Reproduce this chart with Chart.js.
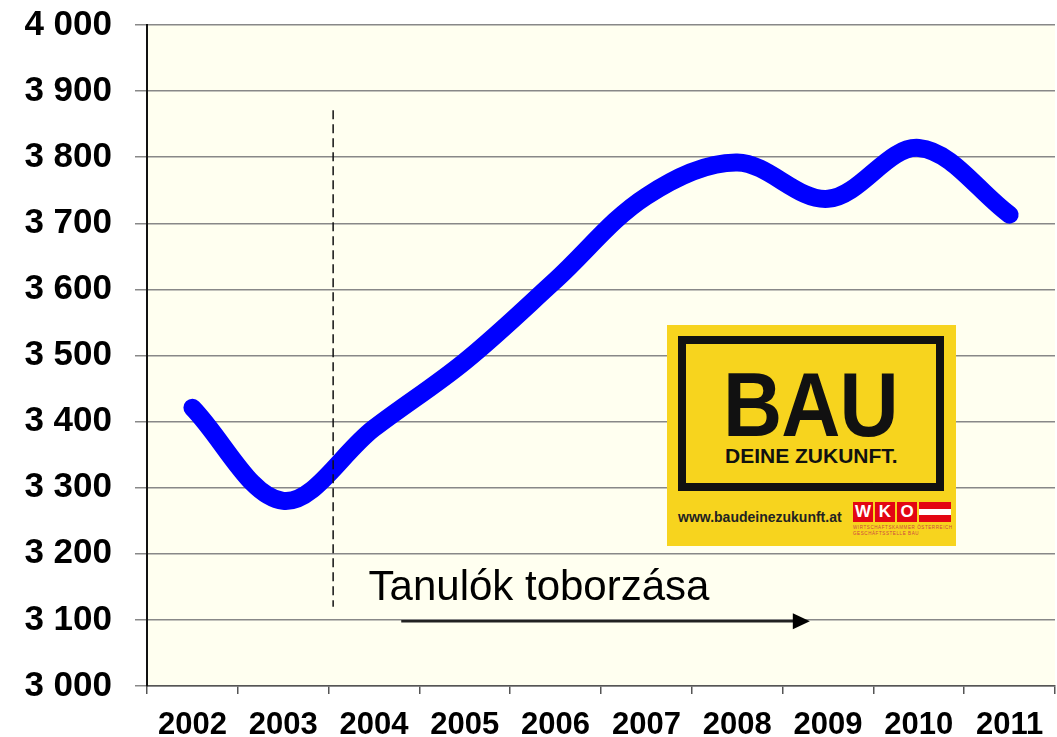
<!DOCTYPE html>
<html>
<head>
<meta charset="utf-8">
<script src="https://cdn.jsdelivr.net/npm/chart.js@4.4.0/dist/chart.umd.min.js"></script>
<style>
    body { margin: 0; background: #ffffff; font-family: "Liberation Sans", Arial, sans-serif; }
    #wrap { position: relative; width: 1057px; height: 737px; }
    #logo { position: absolute; left: 667px; top: 325px; width: 289px; height: 221px; background: #f7d41e; }
    #logo .frame { position: absolute; left: 11px; top: 11px; width: 250px; height: 139px; border: 8px solid #111; }
    #logo .bau { position: absolute; left: 56px; top: 35px; font-weight: bold; font-size: 90px; line-height: 90px; color: #111; transform: scaleX(0.91); transform-origin: left top; letter-spacing: -1px; white-space: nowrap; }
    #logo .zuk { position: absolute; left: 58px; top: 121px; font-weight: bold; font-size: 20px; line-height: 20px; color: #111; transform: scaleX(1.05); transform-origin: left top; white-space: nowrap; }
    #logo .url { position: absolute; left: 11px; top: 184px; font-weight: bold; font-size: 14px; color: #222; white-space: nowrap; }
    #logo .wko { position: absolute; left: 186px; top: 177px; height: 20px; display: flex; gap: 2px; }
    #logo .wko span { display: block; width: 20px; height: 20px; background: #e30613; color: #fff; font-weight: bold; font-size: 17px; line-height: 20px; text-align: center; }
    #logo .flag { width: 32px; height: 20px; background: linear-gradient(#e30613 0 33%, #fff 33% 66%, #e30613 66%); }
    #logo .small { position: absolute; left: 186px; top: 200px; font-size: 4.5px; line-height: 6px; color: #c44; letter-spacing: 0.6px; white-space: nowrap; }
</style>
</head>
<body>
<div id="wrap">
    <canvas id="lineChart" width="1057" height="737"></canvas>
    <div id="logo">
        <div class="frame"></div>
        <div class="bau">BAU</div>
        <div class="zuk">DEINE ZUKUNFT.</div>
        <div class="url">www.baudeinezukunft.at</div>
        <div class="wko"><span>W</span><span>K</span><span>O</span><div class="flag"></div></div>
        <div class="small">WIRTSCHAFTSKAMMER ÖSTERREICH<br>GESCHÄFTSSTELLE BAU</div>
    </div>
</div>
<script>
// Dữ liệu biểu đồ
const years = ["2002", "2003", "2004", "2005", "2006", "2007", "2008", "2009", "2010", "2011"];
const values = [3421, 3280, 3390, 3491, 3614, 3741, 3792, 3737, 3814, 3713];
const yTicks = [3000, 3100, 3200, 3300, 3400, 3500, 3600, 3700, 3800, 3900, 4000];
const noteText = "Tanulók toborzása";

// Vẽ nền, đường đứt nét, mũi tên và chữ chú thích
const notePlugin = {
    id: "notePlugin",
    beforeDraw(chart) {
        const { ctx, chartArea } = chart;
        ctx.save();
        ctx.fillStyle = "#fffff0";
        ctx.fillRect(chartArea.left, chartArea.top, chartArea.right - chartArea.left, chartArea.bottom - chartArea.top);
        ctx.restore();
    },
    afterDatasetsDraw(chart) {
        const { ctx, scales } = chart;
        const x = scales.x, y = scales.y;
        ctx.save();
        // đường đứt nét
        const dx = x.getPixelForValue(1.55);
        ctx.strokeStyle = "#111";
        ctx.lineWidth = 1.5;
        ctx.setLineDash([9, 5]);
        ctx.beginPath();
        ctx.moveTo(dx, y.getPixelForValue(3871));
        ctx.lineTo(dx, y.getPixelForValue(3120));
        ctx.stroke();
        ctx.setLineDash([]);
        // mũi tên
        const ax1 = x.getPixelForValue(2.3), ax2 = x.getPixelForValue(6.8);
        const ay = y.getPixelForValue(3098);
        ctx.lineWidth = 2.5;
        ctx.strokeStyle = "#222";
        ctx.beginPath();
        ctx.moveTo(ax1, ay);
        ctx.lineTo(ax2 - 14, ay);
        ctx.stroke();
        ctx.fillStyle = "#000";
        ctx.beginPath();
        ctx.moveTo(ax2, ay);
        ctx.lineTo(ax2 - 17, ay - 8);
        ctx.lineTo(ax2 - 17, ay + 8);
        ctx.closePath();
        ctx.fill();
        // chữ
        ctx.font = "42px 'Liberation Sans', Arial, sans-serif";
        ctx.textBaseline = "alphabetic";
        ctx.fillText(noteText, x.getPixelForValue(1.94), y.getPixelForValue(3130));
        ctx.restore();
    }
};

const ctx = document.getElementById("lineChart").getContext("2d");
new Chart(ctx, {
    type: "line",
    data: {
        labels: years,
        datasets: [{
            data: values,
            borderColor: "#0000ff",
            borderWidth: 18,
            borderCapStyle: "round",
            borderJoinStyle: "round",
            pointRadius: 0,
            tension: 0.35,
            fill: false
        }]
    },
    options: {
        responsive: false,
        animation: false,
        layout: { autoPadding: false, padding: { top: 25, right: 2, left: 0, bottom: 0 } },
        plugins: { legend: { display: false }, tooltip: { enabled: false } },
        scales: {
            x: {
                offset: true,
                grid: { offset: true, drawOnChartArea: false, drawTicks: true, tickLength: 8, color: "#555", lineWidth: 1.5 },
                border: { color: "#555", width: 1.5 },
                ticks: { color: "#000", font: { family: "'Liberation Sans', Arial", size: 31, weight: "bold" }, padding: 13, maxRotation: 0, autoSkip: false },
                afterFit: s => { s.height = 51; }
            },
            y: {
                min: 3000,
                max: 4000,
                afterBuildTicks: s => { s.ticks = yTicks.map(v => ({ value: v })); },
                grid: { color: "#888", lineWidth: 1.5, tickLength: 12 },
                border: { color: "#111", width: 2 },
                ticks: {
                    color: "#000",
                    padding: 23,
                    font: { family: "'Liberation Sans', Arial", size: 35, weight: "bold" },
                    callback: v => String(v).replace(/\B(?=(\d{3})+(?!\d))/g, " ")
                },
                afterFit: s => { s.width = 147; s.paddingTop = 0; s.paddingBottom = 0; }
            }
        }
    },
    plugins: [notePlugin]
});
</script>
</body>
</html>
